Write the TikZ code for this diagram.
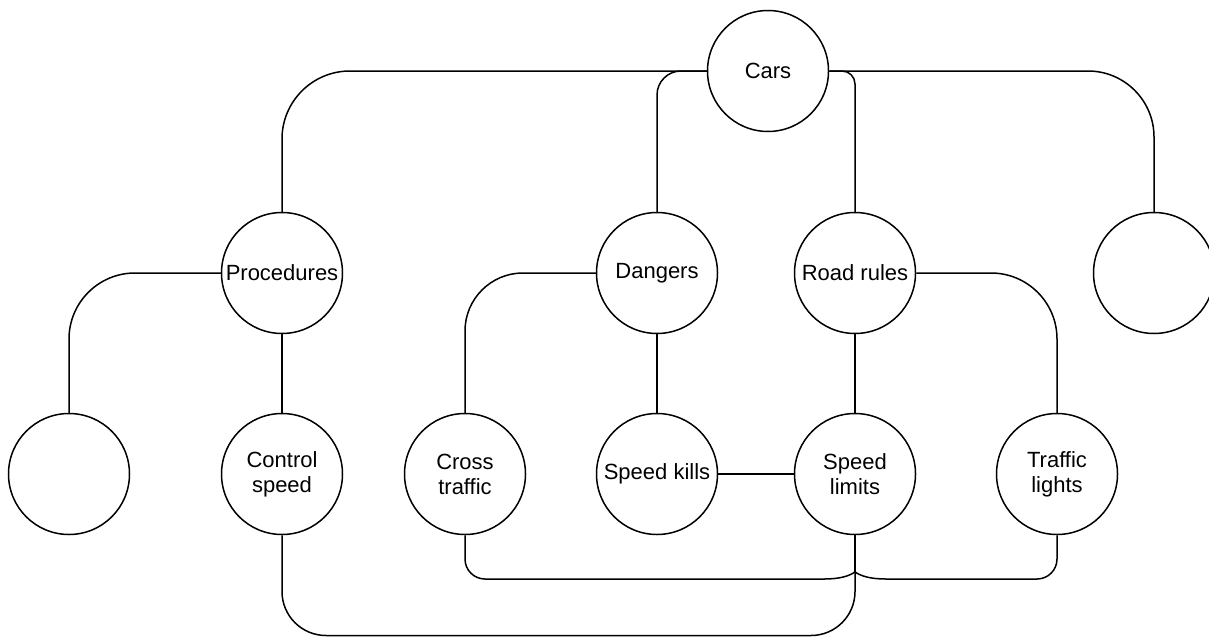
\documentclass[tikz,border=0pt]{standalone}
\usepackage{fontspec}
\setmainfont{Liberation Sans}
\begin{document}
\begin{tikzpicture}[x=1pt,y=-1pt,
  bubble/.style={draw,circle,line width=1.5pt,minimum size=121pt,inner sep=0pt,align=center,font=\fontsize{22}{25}\selectfont},
  link/.style={line width=1.5pt}]
\useasboundingbox (0,0) rectangle (1209,637);
\node[bubble] (cars) at (768,71) {Cars};
\node[bubble] (proc) at (282,273) {Procedures};
\node[bubble] (dang) at (657,273) {Dangers};
\node[bubble] (road) at (855,273) {Road rules};
\node[bubble] (emR) at (1154,273) {};
\node[bubble] (emL) at (69,474) {};
\node[bubble] (ctrl) at (282,474) {Control\\speed};
\node[bubble] (cross) at (465,474) {Cross\\traffic};
\node[bubble] (kills) at (657,474) {Speed kills};
\node[bubble] (limits) at (855,474) {Speed\\limits};
\node[bubble] (lights) at (1057,474) {Traffic\\lights};
\coordinate (j) at (855,572);
\coordinate (a1) at (824,579);
\coordinate (a2) at (886,579);
\coordinate (bot) at (568,635.5);
\draw[link,rounded corners=68pt] (cars.west) -| (proc.north);
\draw[link,rounded corners=24pt] (cars.west) -| (dang.north);
\draw[link,rounded corners=13pt] (cars.east) -| (road.north);
\draw[link,rounded corners=66pt] (cars.east) -| (emR.north);
\draw[link,rounded corners=66pt] (proc.west) -| (emL.north);
\draw[link] (proc.south) -- (ctrl.north);
\draw[link,rounded corners=58pt] (dang.west) -| (cross.north);
\draw[link] (dang.south) -- (kills.north);
\draw[link] (road.south) -- (limits.north);
\draw[link,rounded corners=66pt] (road.east) -| (lights.north);
\draw[link] (kills.east) -- (limits.west);
\draw[link,rounded corners=20pt] (cross.south) |- (a1);
\draw[link] (a1) .. controls (840,579) and (849,576) .. (j);
\draw[link] (j) .. controls (861,576) and (870,579) .. (a2);
\draw[link,rounded corners=20pt] (a2) -| (lights.south);
\draw[link] (j) -- (limits.south);
\draw[link,rounded corners=44pt] (ctrl.south) |- (bot) -| (limits.south);
\end{tikzpicture}
\end{document}
